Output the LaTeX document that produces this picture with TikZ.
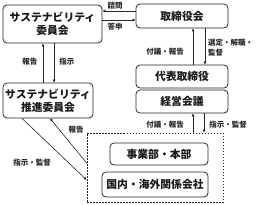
\documentclass[tikz,border=0pt]{standalone}
\usepackage{fontspec}
\setmainfont{Noto Sans CJK JP}
\usetikzlibrary{arrows.meta,positioning}
\begin{document}
\begin{tikzpicture}[
      x=1pt, y=-1pt,
      box/.style={draw=black!85, rounded corners=4pt, line width=0.8pt, fill=white,
        align=center, inner sep=0pt, text=black!90, font=\fontsize{10.8}{13}\selectfont\bfseries},
      lbl/.style={inner sep=0pt, text=black!85, font=\fontsize{7.5}{9.5}\selectfont\bfseries},
      arr/.style={draw=black!85, line width=0.6pt, -{Latex[length=3pt,width=3pt]}},
      group/.style={draw=black!85, line width=0.6pt, dash pattern=on 1.5pt off 1.5pt}
    ]
      \useasboundingbox (0,0) rectangle (260,204);
      % left side
      \node[box, minimum width=99pt, minimum height=38pt] (suscom) at (52.5,24) {サステナビリティ\\委員会};
      \node[box, minimum width=90pt, minimum height=35pt] (suspro) at (48,100.5) {サステナビリティ\\推進委員会};
      % right side
      \node[box, minimum width=92pt, minimum height=24pt] (board) at (182,16) {取締役会};
      \node[box, minimum width=92pt, minimum height=23pt] (ceo) at (182,76.5) {代表取締役};
      \node[box, minimum width=92pt, minimum height=23pt] (mgmt) at (182,101.5) {経営会議};
      % group of divisions
      \node[group, minimum width=136pt, minimum height=69pt] (grp) at (155,167.5) {};
      \node[box, minimum width=98pt, minimum height=22pt] (div) at (159,154) {事業部・本部};
      \node[box, minimum width=106pt, minimum height=25pt] (affil) at (155,184.5) {国内・海外関係会社};

      % connectors
      \draw[arr] (board.west |- 0,11) -- (suscom.east |- 0,11);
      \draw[arr] (suscom.east |- 0,20) -- (board.west |- 0,20);
      \draw[arr] (suspro.north -| 43,0) -- (suscom.south -| 43,0);
      \draw[arr] (suscom.south -| 54,0) -- (suspro.north -| 54,0);
      \draw[arr] (ceo.north -| 193,0) -- (board.south -| 193,0);
      \draw[arr] (board.south -| 205,0) -- (ceo.north -| 205,0);
      \draw[arr] (grp.north -| 193,0) -- (mgmt.south -| 193,0);
      \draw[arr] (mgmt.south -| 204,0) -- (grp.north -| 204,0);
      \draw[arr] (grp.west |- 0,163) -- (suspro.south -| 50,0);
      \draw[arr] (suspro.south -| 22,0) -- (grp.west |- 0,180);

      % labels
      \node[lbl] (consult) at (115,5.5) {諮問};
      \node[lbl] (answer) at (115,27) {答申};
      \node[lbl] (repL) at (30,62) {報告};
      \node[lbl] (instL) at (67,62) {指示};
      \node[lbl] (propU) at (165,52) {付議・報告};
      \node[lbl, anchor=west, align=left] (elect) at (208,47.5) {選定・解職・\\監督};
      \node[lbl] (propD) at (165,125) {付議・報告};
      \node[lbl] (supD) at (228,125) {指示・監督};
      \node[lbl] (repG) at (76,130) {報告};
      \node[lbl] (supG) at (32,163) {指示・監督};
    \end{tikzpicture}
\end{document}
